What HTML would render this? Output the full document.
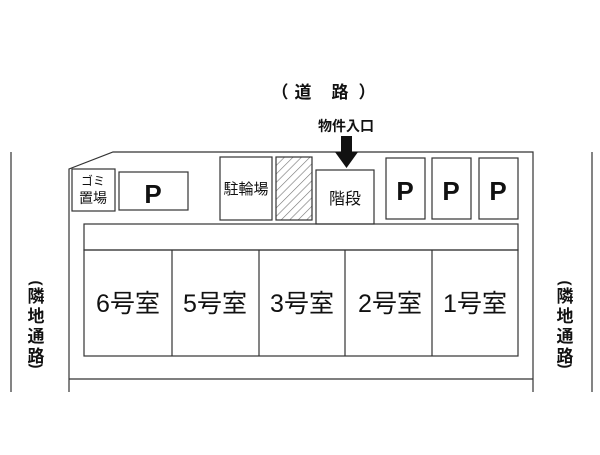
<!DOCTYPE html>
<html><head><meta charset="utf-8"><style>
body{margin:0;background:#fff;}
svg text{font-family:"Liberation Sans","Noto Sans CJK JP",sans-serif;fill:#111;}
</style></head><body>
<svg width="600" height="450" viewBox="0 0 600 450" xmlns="http://www.w3.org/2000/svg">
<defs><pattern id="h" width="6" height="6" patternUnits="userSpaceOnUse" patternTransform="rotate(45)"><line x1="0" y1="0" x2="0" y2="6" stroke="#777" stroke-width="1.2"/></pattern></defs>
<g fill="none" stroke="#333" stroke-width="1.2">
<line x1="11" y1="152" x2="11" y2="392"/>
<line x1="592" y1="152" x2="592" y2="392"/>
<polyline points="69,392 69,169 113,152 533,152 533,392"/>
<line x1="69" y1="379" x2="533" y2="379"/>
<rect x="72" y="169" width="43" height="42"/>
<rect x="119" y="172" width="69" height="38"/>
<rect x="220" y="157" width="52" height="63"/>
<rect x="276" y="157" width="36" height="63" fill="url(#h)"/>
<rect x="316" y="170" width="58" height="54"/>
<rect x="386" y="158" width="39" height="61"/>
<rect x="432" y="158" width="39" height="61"/>
<rect x="479" y="158" width="39" height="61"/>
<rect x="84" y="224" width="434" height="26"/>
<rect x="84" y="250" width="434" height="106"/>
<line x1="172" y1="250" x2="172" y2="356"/>
<line x1="259" y1="250" x2="259" y2="356"/>
<line x1="345" y1="250" x2="345" y2="356"/>
<line x1="432" y1="250" x2="432" y2="356"/>
</g>
<polygon points="341,136 352,136 352,152 358,152 346.5,168 335,152 341,152" fill="#111"/>
<g font-weight="bold">
<text x="280" y="98" font-size="17" text-anchor="middle">（</text>
<text x="303" y="98" font-size="17" text-anchor="middle">道</text>
<text x="340" y="98" font-size="17" text-anchor="middle">路</text>
<text x="367" y="98" font-size="17" text-anchor="middle">）</text>
<text x="346" y="131" font-size="14" text-anchor="middle">物件入口</text>
<text x="153" y="203" font-size="26" text-anchor="middle">P</text>
<text x="405" y="200" font-size="26" text-anchor="middle">P</text>
<text x="451" y="200" font-size="26" text-anchor="middle">P</text>
<text x="498" y="200" font-size="26" text-anchor="middle">P</text>
</g>
<text x="93" y="185" font-size="12" text-anchor="middle">ゴミ</text>
<text x="93" y="203" font-size="14" text-anchor="middle">置場</text>
<text x="246" y="194" font-size="15" text-anchor="middle">駐輪場</text>
<text x="345" y="204" font-size="16" text-anchor="middle">階段</text>
<g font-size="25" text-anchor="middle">
<text x="128" y="312">6号室</text>
<text x="215" y="312">5号室</text>
<text x="302" y="312">3号室</text>
<text x="390" y="312">2号室</text>
<text x="475" y="312">1号室</text>
</g>
<g font-size="17" text-anchor="middle" font-weight="bold">
<text transform="translate(36,283) rotate(90)" dominant-baseline="central" font-size="15">(</text>
<text x="36" y="302">隣</text><text x="36" y="322">地</text><text x="36" y="342">通</text><text x="36" y="362">路</text>
<text transform="translate(36,366) rotate(90)" dominant-baseline="central" font-size="15">)</text>
<text transform="translate(565,283) rotate(90)" dominant-baseline="central" font-size="15">(</text>
<text x="565" y="302">隣</text><text x="565" y="322">地</text><text x="565" y="342">通</text><text x="565" y="362">路</text>
<text transform="translate(565,366) rotate(90)" dominant-baseline="central" font-size="15">)</text>
</g>
</svg>
</body></html>
